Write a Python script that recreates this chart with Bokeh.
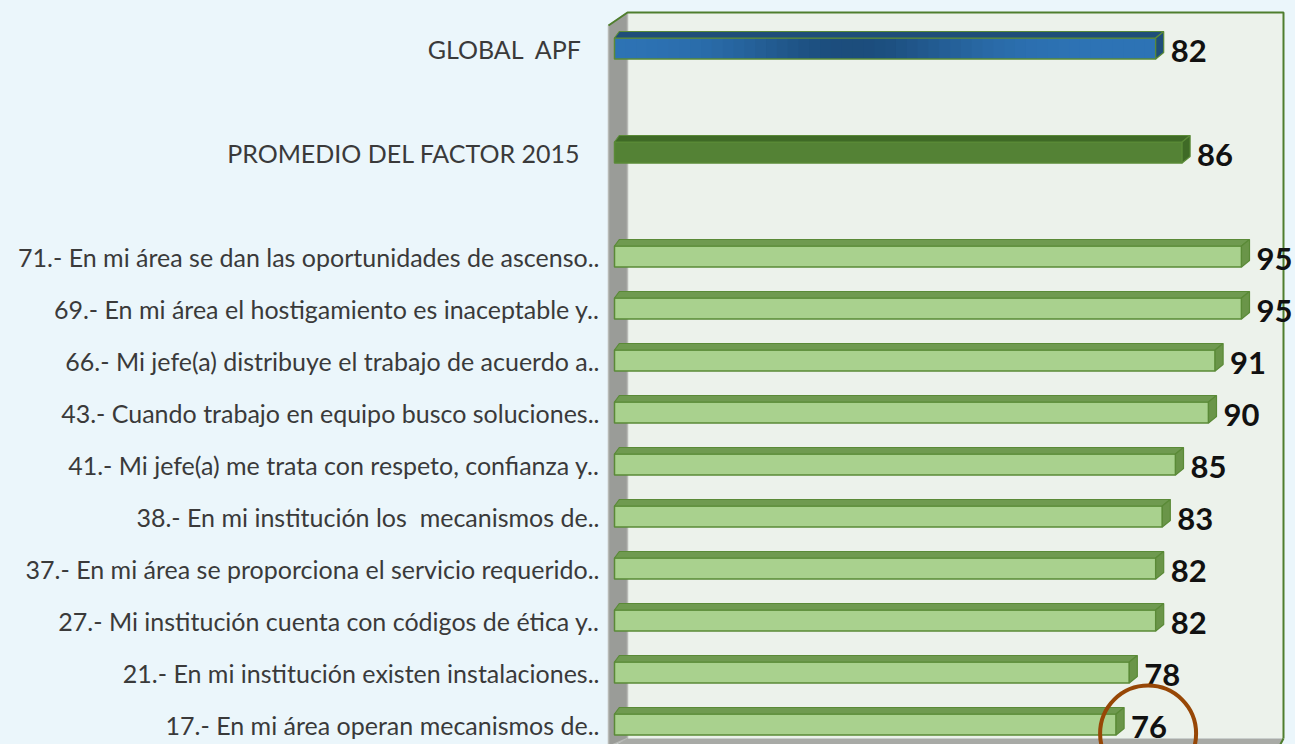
import numpy as np
from bokeh.plotting import figure
from bokeh.models import Range1d, FixedTicker
from bokeh.core.properties import value
from bokeh.embed import file_html
from bokeh.resources import INLINE

NB = "\u00a0"
labels = [
    "GLOBAL" + NB + NB + "APF" + NB * 3,
    "PROMEDIO DEL FACTOR 2015" + NB * 3,
    "71.- En mi área se dan las oportunidades de ascenso..",
    "69.- En mi área el hostigamiento es inaceptable y..",
    "66.- Mi jefe(a) distribuye el trabajo de acuerdo a..",
    "43.- Cuando trabajo en equipo busco soluciones..",
    "41.- Mi jefe(a) me trata con respeto, confianza y..",
    "38.- En mi institución los" + NB + " mecanismos de..",
    "37.- En mi área se proporciona el servicio requerido..",
    "27.- Mi institución cuenta con códigos de ética y..",
    "21.- En mi institución existen instalaciones..",
    "17.- En mi área operan mecanismos de..",
]
values = [82, 86, 95, 95, 91, 90, 85, 83, 82, 82, 78, 76]
slots = [13, 11, 9, 8, 7, 6, 5, 4, 3, 2, 1, 0]

front_colors = ["#2c71b2", "#548235"] + ["#a9d18e"] * 10
top_colors = ["#1f4e79", "#3f6a26"] + ["#6f9a50"] * 10
side_colors = ["#1f4e79", "#3f6a26"] + ["#6a9549"] * 10
edge_color = "#5a8a37"

BG = "#ebf6fb"
W, H = 1295, 744
LEFT = 605
PXU_X = 6.6     # pixels per value unit
PXU_Y = 52.0    # pixels per slot
X0_PX = 614     # pixel of value 0
Y0_PX = 724     # pixel of slot 0


def px_x(px):
    return (px - X0_PX) / PXU_X


def px_y(py):
    return (Y0_PX - py) / PXU_Y


x_start, x_end = px_x(LEFT), px_x(W)
y_start, y_end = px_y(H), px_y(0)

p = figure(width=W, height=H, output_backend="svg", toolbar_location=None,
           x_range=Range1d(x_start, x_end), y_range=Range1d(y_start, y_end),
           x_axis_location=None, min_border_left=LEFT, min_border_right=0,
           min_border_top=0, min_border_bottom=0)
p.background_fill_color = BG
p.border_fill_color = BG
p.outline_line_color = None
p.grid.visible = False

# 3D walls
wl, wr = px_x(627), px_x(1283)
wt, wb = px_y(12), px_y(738)
lw_l = px_x(608)
p.quad(left=[wl], right=[wr], bottom=[wb], top=[wt], fill_color="#ecf2eb", line_color=None)
p.patch(x=[lw_l, wl, wl, lw_l], y=[px_y(25), wt, wb, px_y(746)],
        fill_color="#9a9c98", line_color="#b8bab6", line_width=1.5)
p.patch(x=[lw_l, wl, wr, wr - 0.8], y=[px_y(748), wb, wb, px_y(748)],
        fill_color="#a8aaa6", line_color=None)
p.line(x=[lw_l, wl, wr, wr], y=[px_y(25), wt, wt, wb], line_color="#4f7e2e", line_width=2)
p.line(x=[wr, wr - 0.8], y=[wb, px_y(748)], line_color="#4f7e2e", line_width=2)

# bars
vals = np.array(values, dtype=float)
pos = np.array(slots, dtype=float)
h = 10.5 / PXU_Y
dx = 8 / PXU_X
dy = 6.5 / PXU_Y

# gradient for the first (blue) bar
n = 50
edges = np.linspace(0, vals[0], n + 1)
c = np.array([0x2e, 0x74, 0xb6]) / 255
d = np.array([0x1c, 0x4d, 0x7c]) / 255
mid = 0.5 * (edges[:-1] + edges[1:])
wgt = np.exp(-((mid - 36) / 18) ** 2)
cols = ["#%02x%02x%02x" % tuple((255 * (c * (1 - w_) + d * w_)).astype(int)) for w_ in wgt]
p.quad(left=edges[:-1], right=np.minimum(edges[1:] + 1.0, vals[0]), bottom=pos[0] - h, top=pos[0] + h,
       fill_color=cols, line_color=None)

p.quad(left=np.zeros(len(vals))[1:], right=vals[1:], bottom=pos[1:] - h, top=pos[1:] + h,
       fill_color=front_colors[1:], line_color=edge_color, line_width=1.5)
p.quad(left=[0], right=[vals[0]], bottom=[pos[0] - h], top=[pos[0] + h],
       fill_color=None, line_color=edge_color, line_width=1.5)

top_xs = [[0, dx * 0.6, v + dx, v] for v in vals]
top_ys = [[y + h, y + h + dy, y + h + dy, y + h] for y in pos]
p.patches(xs=top_xs, ys=top_ys, fill_color=top_colors, line_color=edge_color, line_width=1.2)
side_xs = [[v, v + dx, v + dx, v] for v in vals]
side_ys = [[y - h, y - h + dy, y + h + dy, y + h] for y in pos]
p.patches(xs=side_xs, ys=side_ys, fill_color=side_colors, line_color=edge_color, line_width=1.2)

# value labels
p.text(x=vals + 15 / PXU_X, y=pos - 2 / PXU_Y, text=[str(v) for v in values],
       text_font=value("Lato"), text_font_style="bold", text_font_size="31px",
       text_baseline="middle", text_align="left", text_color="#111111")

# highlight ring around the last value
p.scatter(x=[vals[-1] + 32 / PXU_X], y=[pos[-1] - 9 / PXU_Y], size=96, marker="circle",
          fill_color=None, line_color="#974706", line_width=4)

# category axis
ax = p.yaxis[0]
ax.ticker = FixedTicker(ticks=slots)
ax.major_label_overrides = {s: l for s, l in zip(slots, labels)}
ax.axis_line_color = None
ax.major_tick_line_color = None
ax.minor_tick_line_color = None
ax.major_label_standoff = 0
ax.major_label_text_font = "Lato"
ax.major_label_text_font_size = "25px"
ax.major_label_text_color = "#3a3a3a"

html = file_html(p, INLINE, title="chart")
html = html.replace("</head>", "<style>html,body{background:%s;}</style></head>" % BG, 1)
open("out.html", "w").write(html)
